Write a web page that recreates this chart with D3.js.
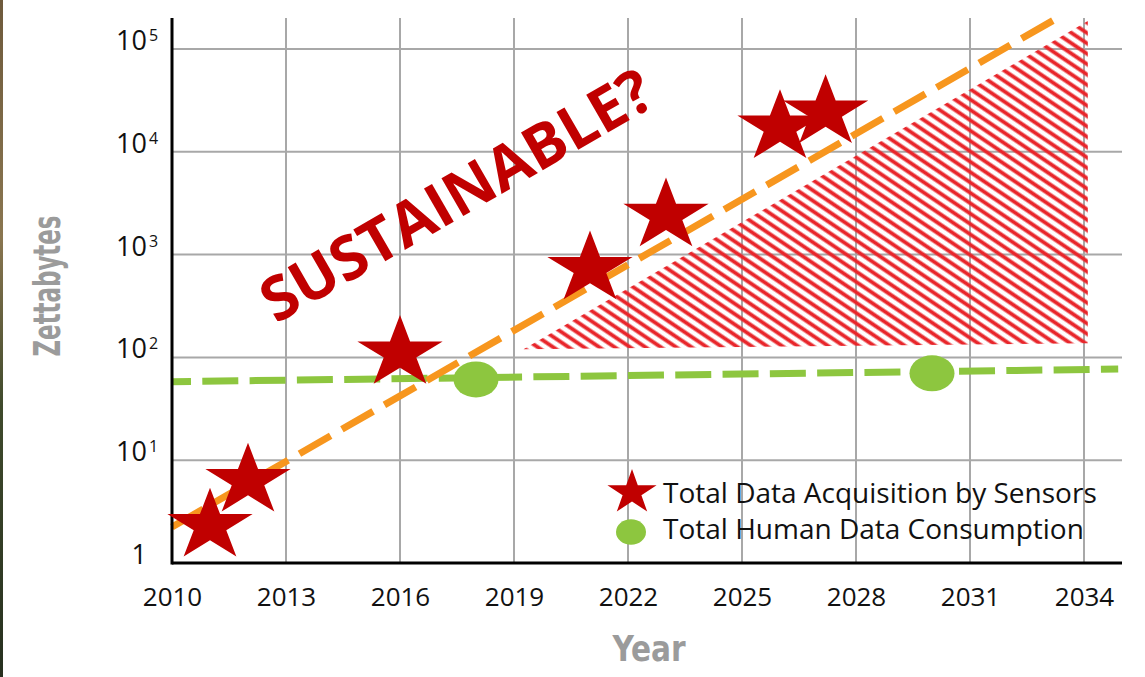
<!DOCTYPE html>
<html>
<head>
<meta charset="utf-8">
<script src="https://cdn.jsdelivr.net/npm/d3@7"></script>
<style>
  body { margin: 0; background: #fff; }
  svg { display: block; }
</style>
</head>
<body>
<div id="chart"></div>
<script>
// data
var sensorYears = [2011, 2012, 2016, 2021, 2023, 2026, 2027.2];
var sensorZB = [2.3, 6.3, 110, 730, 2400, 17300, 24200];
var humanYears = [2018, 2030];
var humanZB = [61, 70];
// dashed trend lines (two end points each)
var sensorTrendYears = [2010, 2033.3];
var sensorTrendZB = [2.24, 200000];
var humanTrendYears = [2010, 2034.9];
var humanTrendZB = [58, 77];
// hatched gap area (triangle)
var gapYears = [2019.25, 2034.1, 2034.1];
var gapZB = [120, 187000, 137];
var xTicks = [2010, 2013, 2016, 2019, 2022, 2025, 2028, 2031, 2034];
var yTicks = [1, 10, 100, 1000, 10000, 100000];
var legendLabels = ["Total Data Acquisition by Sensors", "Total Human Data Consumption"];

var width = 1145, height = 677;
var red = "#C00000", orange = "#F7961E", green = "#8DC63F", hatchRed = "#E8262B", grid = "#A8A8A8";

var svg = d3.select("#chart").append("svg")
    .attr("width", width)
    .attr("height", height);

var defs = svg.append("defs");

// thin strip of photo at the left edge
var strip = defs.append("linearGradient")
    .attr("id", "strip").attr("x1", 0).attr("y1", 0).attr("x2", 0).attr("y2", 1);
strip.selectAll("stop")
    .data([["0%", "#6e5a3c"], ["35%", "#8a7650"], ["60%", "#3f4a2c"], ["100%", "#27301f"]])
    .enter().append("stop")
    .attr("offset", function(d) { return d[0]; })
    .attr("stop-color", function(d) { return d[1]; });
svg.append("rect").attr("x", 0).attr("y", 0).attr("width", 3).attr("height", height)
    .attr("fill", "url(#strip)");

// hatch pattern for the gap
var pat = defs.append("pattern")
    .attr("id", "hatch")
    .attr("patternUnits", "userSpaceOnUse")
    .attr("width", 40).attr("height", 8.6)
    .attr("patternTransform", "rotate(34)");
pat.append("line")
    .attr("x1", 0).attr("y1", 4.3).attr("x2", 40).attr("y2", 4.3)
    .attr("stroke", hatchRed).attr("stroke-width", 3.6);

var x = d3.scaleLinear().domain([2010, 2035]).range([172, 1122]);
var y = d3.scaleLog().domain([1, 200000]).range([563, 18]);

// ---- grid ----
svg.append("g").selectAll("line.h")
    .data(yTicks.slice(1))
    .enter().append("line")
    .attr("x1", x(2010)).attr("x2", x(2035))
    .attr("y1", function(d) { return y(d); })
    .attr("y2", function(d) { return y(d); })
    .attr("stroke", grid).attr("stroke-width", 2);
svg.append("g").selectAll("line.v")
    .data(xTicks.slice(1))
    .enter().append("line")
    .attr("x1", function(d) { return x(d); })
    .attr("x2", function(d) { return x(d); })
    .attr("y1", y(200000)).attr("y2", y(1))
    .attr("stroke", grid).attr("stroke-width", 2);

// ---- hatched gap ----
var gapPts = gapYears.map(function(d, i) { return [x(d), y(gapZB[i])]; });
svg.append("path")
    .attr("d", d3.line()(gapPts) + "Z")
    .attr("fill", "url(#hatch)");

// ---- trend lines ----
var trend = d3.line()
    .x(function(d) { return x(d[0]); })
    .y(function(d) { return y(d[1]); });

svg.append("path")
    .attr("d", trend(humanTrendYears.map(function(d, i) { return [d, humanTrendZB[i]]; })))
    .attr("fill", "none").attr("stroke", green).attr("stroke-width", 7)
    .attr("stroke-dasharray", "36 11.3").attr("stroke-dashoffset", 17);

svg.append("path")
    .attr("d", trend(sensorTrendYears.map(function(d, i) { return [d, sensorTrendZB[i]]; })))
    .attr("fill", "none").attr("stroke", orange).attr("stroke-width", 7)
    .attr("stroke-dasharray", "36 13");

// ---- axes ----
svg.append("line")
    .attr("x1", x(2010)).attr("x2", x(2010))
    .attr("y1", y(200000)).attr("y2", y(1) + 1.5)
    .attr("stroke", "#000").attr("stroke-width", 3);
svg.append("line")
    .attr("x1", x(2010)).attr("x2", x(2035))
    .attr("y1", y(1)).attr("y2", y(1))
    .attr("stroke", "#000").attr("stroke-width", 3);

var xAxis = svg.append("g")
    .attr("transform", "translate(0," + y(1) + ")")
    .call(d3.axisBottom(x).tickValues(xTicks).tickFormat(d3.format("d")).tickSize(0).tickPadding(25));
xAxis.select(".domain").remove();
xAxis.selectAll("text")
    .attr("font-family", "'Open Sans', sans-serif")
    .attr("font-size", 26)
    .attr("fill", "#111");

var yLab = svg.append("g").selectAll("g")
    .data(yTicks)
    .enter().append("g");
yLab.append("text")
    .attr("x", 147)
    .attr("y", function(d) { return y(d) + 1; })
    .attr("text-anchor", "end")
    .attr("font-family", "'Open Sans', sans-serif")
    .attr("font-size", 27)
    .attr("fill", "#111")
    .text(function(d) { return d === 1 ? "1" : "10"; });
yLab.filter(function(d) { return d > 1; }).append("text")
    .attr("x", 149)
    .attr("y", function(d) { return y(d) - 8; })
    .attr("font-family", "'Open Sans', sans-serif")
    .attr("font-size", 16)
    .attr("fill", "#111")
    .text(function(d) { return Math.round(Math.log10(d)); });

// axis titles
svg.append("text")
    .attr("transform", "translate(60,286) rotate(-90)")
    .attr("text-anchor", "middle")
    .attr("font-family", "'Liberation Sans Narrow', 'DejaVu Sans Condensed', sans-serif")
    .attr("font-weight", "bold")
    .attr("font-size", 38)
    .attr("fill", "#9B9B9B")
    .attr("textLength", 141).attr("lengthAdjust", "spacingAndGlyphs")
    .text("Zettabytes");
svg.append("text")
    .attr("x", 649).attr("y", 661)
    .attr("text-anchor", "middle")
    .attr("font-family", "'Liberation Sans Narrow', 'DejaVu Sans Condensed', sans-serif")
    .attr("font-weight", "bold")
    .attr("font-size", 35)
    .attr("fill", "#9B9B9B")
    .attr("textLength", 73).attr("lengthAdjust", "spacingAndGlyphs")
    .text("Year");

// ---- markers ----
// stars in the picture are a bit wider than a regular star
var starR = 38;
var star = d3.symbol().type(d3.symbolStar).size(starR * starR / 0.8908130915292852);

svg.append("g").selectAll("ellipse")
    .data(humanYears)
    .enter().append("ellipse")
    .attr("cx", function(d) { return x(d); })
    .attr("cy", function(d, i) { return y(humanZB[i]); })
    .attr("rx", 22.5).attr("ry", 18)
    .attr("fill", green);

svg.append("g").selectAll("path")
    .data(sensorYears)
    .enter().append("path")
    .attr("transform", function(d, i) { return "translate(" + x(d) + "," + y(sensorZB[i]) + ") scale(1.18,1)"; })
    .attr("d", star)
    .attr("fill", red);

// ---- big label ----
svg.append("text")
    .attr("transform", "translate(467,214) rotate(-30)")
    .attr("text-anchor", "middle")
    .attr("font-family", "'Open Sans', sans-serif")
    .attr("font-weight", "bold")
    .attr("font-size", 61)
    .attr("fill", red)
    .text("SUSTAINABLE?");

// ---- legend ----
var legR = 23.5;
svg.append("path")
    .attr("transform", "translate(632,492.5) scale(1.1,1)")
    .attr("d", d3.symbol().type(d3.symbolStar).size(legR * legR / 0.8908130915292852))
    .attr("fill", red);
svg.append("ellipse")
    .attr("cx", 631).attr("cy", 532)
    .attr("rx", 15).attr("ry", 12.7)
    .attr("fill", green);
svg.selectAll("text.leg")
    .data(legendLabels)
    .enter().append("text")
    .attr("class", "leg")
    .attr("x", 663)
    .attr("y", function(d, i) { return 503 + i * 36; })
    .attr("font-family", "'Open Sans', sans-serif")
    .attr("font-size", 28)
    .attr("fill", "#111")
    .text(function(d) { return d; });
</script>
</body>
</html>
